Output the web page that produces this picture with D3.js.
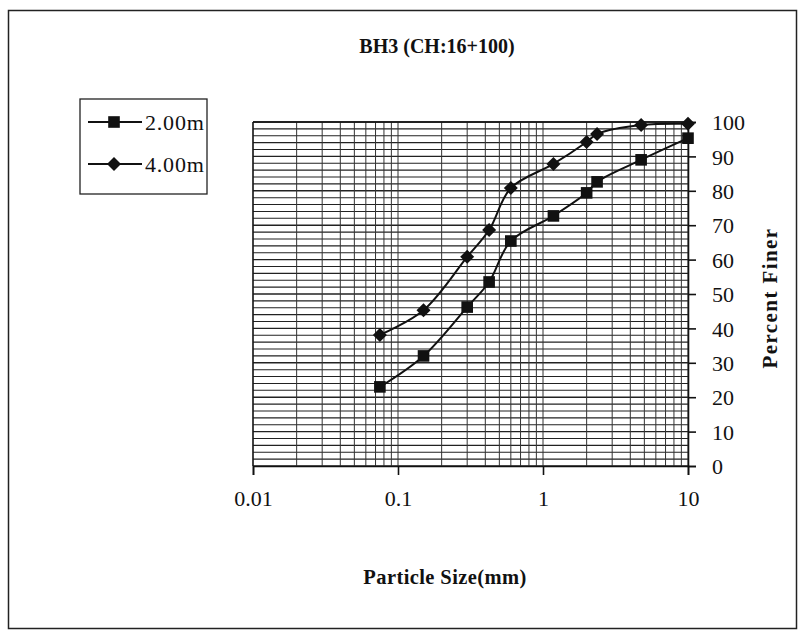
<!DOCTYPE html>
<html><head><meta charset="utf-8">
<script src="https://cdn.jsdelivr.net/npm/d3@7"></script>
<style>body{margin:0;background:#fff}svg{display:block}</style>
</head><body>
<script>
const title = "BH3 (CH:16+100)";
const sieveSizes = [0.075, 0.15, 0.3, 0.425, 0.6, 1.18, 2.0, 2.36, 4.75, 10];
const finer200 = [23, 32, 46.2, 53.5, 65.4, 72.7, 79.4, 82.6, 89, 95.3];
const finer400 = [38.1, 45.3, 60.8, 68.6, 80.8, 87.8, 94.2, 96.5, 99.1, 99.5];
const seriesNames = ["2.00m", "4.00m"];
const xTicks = [0.01, 0.1, 1, 10];
const xTickLabels = ["0.01", "0.1", "1", "10"];
const yTicks = [0, 10, 20, 30, 40, 50, 60, 70, 80, 90, 100];

const W = 801, H = 634;
const svg = d3.select("body").append("svg").attr("width", W).attr("height", H);
const serif = "'Liberation Serif', 'DejaVu Serif', serif";

svg.append("rect").attr("x", 8.5).attr("y", 10.5).attr("width", 788).attr("height", 618)
  .attr("fill", "#fff").attr("stroke", "#222").attr("stroke-width", 1.5);

const x = d3.scaleLog().domain([0.01, 10]).range([253, 688]);
const y = d3.scaleLinear().domain([0, 100]).range([466, 122]);

const g = svg.append("g");
// horizontal grid every 2
const hLines = d3.range(0, 101, 2);
g.selectAll(".hg").data(hLines).join("line")
  .attr("x1", x(0.01)).attr("x2", x(10))
  .attr("y1", d => y(d)).attr("y2", d => y(d))
  .attr("stroke", "#222").attr("stroke-width", d => d % 10 === 0 ? 1.4 : 1.1);
// vertical log grid
const vLines = [];
for (const dec of [0.01, 0.1, 1]) for (let k = 1; k <= 9; k++) vLines.push(dec * k);
vLines.push(10);
g.selectAll(".vg").data(vLines).join("line")
  .attr("x1", d => x(d)).attr("x2", d => x(d))
  .attr("y1", y(0)).attr("y2", y(100))
  .attr("stroke", "#333").attr("stroke-width", 1);

// axes
const xAxis = d3.axisBottom(x).tickValues(xTicks).tickFormat((d, i) => xTickLabels[i]).tickSize(9).tickPadding(15);
const xa = svg.append("g").attr("transform", `translate(0,${y(0)})`).call(xAxis);
const yAxis = d3.axisRight(y).tickValues(yTicks).tickSize(8).tickPadding(16);
const ya = svg.append("g").attr("transform", `translate(${x(10)},0)`).call(yAxis);
[xa, ya].forEach(a => {
  a.select(".domain").attr("stroke", "#111").attr("stroke-width", 1.6);
  a.selectAll(".tick line").attr("stroke", "#111").attr("stroke-width", 1.6);
  a.selectAll("text").attr("font-family", serif).attr("font-size", 22).attr("fill", "#111");
});
ya.selectAll("text").attr("dy", "0.35em");
// left/top border of plot
svg.append("line").attr("x1", x(0.01)).attr("x2", x(0.01)).attr("y1", y(0)).attr("y2", y(100))
  .attr("stroke", "#111").attr("stroke-width", 1.3);
svg.append("line").attr("x1", x(0.01)).attr("x2", x(10)).attr("y1", y(100)).attr("y2", y(100))
  .attr("stroke", "#111").attr("stroke-width", 1.3);

// series
const line = d3.line().x(d => x(d[0])).y(d => y(d[1])).curve(d3.curveCatmullRom.alpha(0.5));
const data200 = sieveSizes.map((s, i) => [s, finer200[i]]);
const data400 = sieveSizes.map((s, i) => [s, finer400[i]]);
svg.append("path").datum(data200).attr("d", line).attr("fill", "none").attr("stroke", "#111").attr("stroke-width", 2);
svg.append("path").datum(data400).attr("d", line).attr("fill", "none").attr("stroke", "#111").attr("stroke-width", 2);
const sq = d3.symbol().type(d3.symbolSquare).size(135);
const dm = d3.symbol().type(d3.symbolDiamond2).size(125);
svg.selectAll(".sq").data(data200).join("path").attr("d", sq)
  .attr("transform", d => `translate(${x(d[0])},${y(d[1])})`).attr("fill", "#111");
svg.selectAll(".dm").data(data400).join("path").attr("d", dm)
  .attr("transform", d => `translate(${x(d[0])},${y(d[1])})`).attr("fill", "#111");

// title & axis titles
svg.append("text").attr("x", 437).attr("y", 53).attr("text-anchor", "middle")
  .attr("font-family", serif).attr("font-weight", "bold").attr("font-size", 20).attr("fill", "#111").text(title);
svg.append("text").attr("x", 445).attr("y", 584).attr("text-anchor", "middle")
  .attr("font-family", serif).attr("font-weight", "bold").attr("font-size", 20.5).attr("letter-spacing", 0.4).attr("fill", "#111").text("Particle Size(mm)");
svg.append("text").attr("transform", "translate(777,298) rotate(-90)").attr("text-anchor", "middle")
  .attr("font-family", serif).attr("font-weight", "bold").attr("font-size", 21).attr("letter-spacing", 1.4).attr("fill", "#111").text("Percent Finer");

// legend
const lg = svg.append("g");
lg.append("rect").attr("x", 80).attr("y", 99).attr("width", 127).attr("height", 95)
  .attr("fill", "#fff").attr("stroke", "#222").attr("stroke-width", 1.3);
const legY = [122, 164];
[sq, dm].forEach((sym, i) => {
  lg.append("line").attr("x1", 88).attr("x2", 142).attr("y1", legY[i]).attr("y2", legY[i])
    .attr("stroke", "#111").attr("stroke-width", 2);
  lg.append("path").attr("d", sym).attr("transform", `translate(114,${legY[i]})`).attr("fill", "#111");
  lg.append("text").attr("x", 145).attr("y", legY[i]).attr("dy", "0.35em")
    .attr("font-family", serif).attr("font-size", 22).attr("letter-spacing", 0.8).attr("fill", "#111").text(seriesNames[i]);
});
</script>
</body></html>
